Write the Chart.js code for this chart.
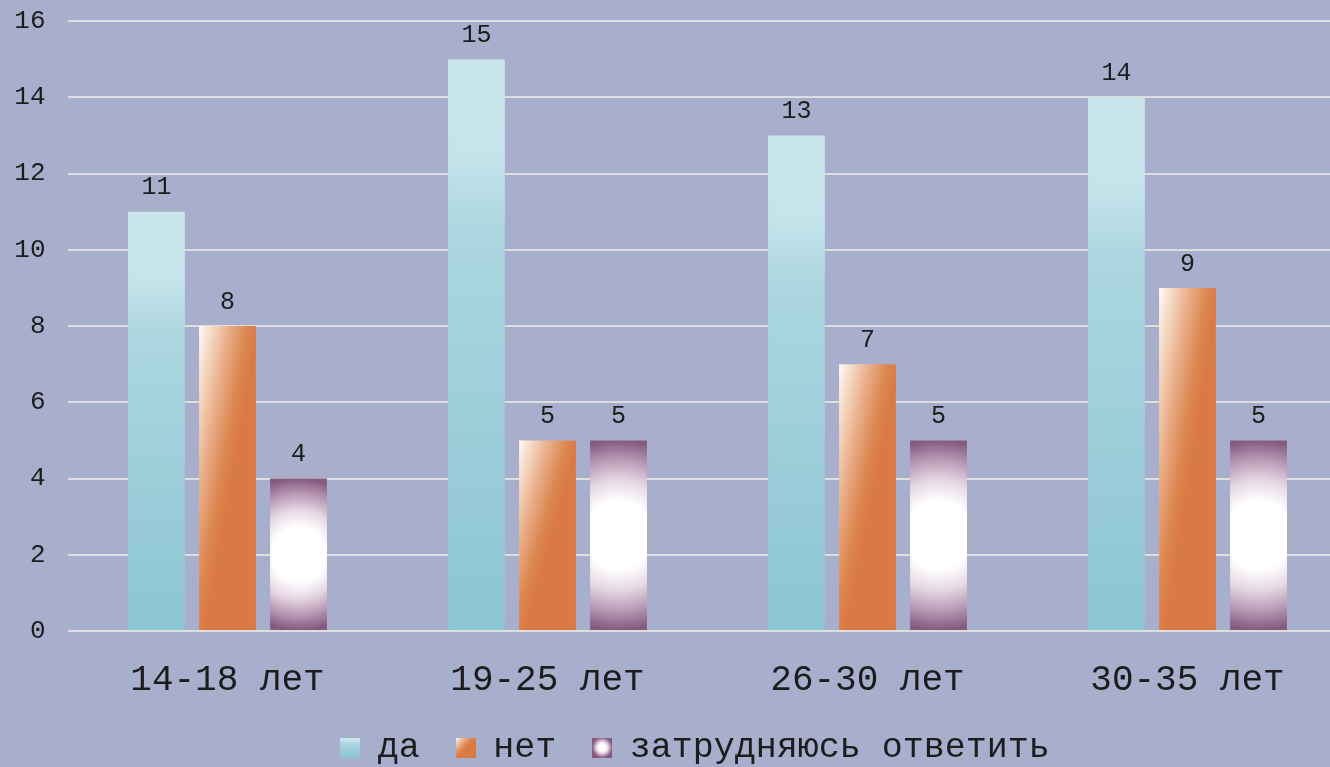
<!DOCTYPE html>
<html>
<head>
<meta charset="utf-8">
<script src="https://cdn.jsdelivr.net/npm/chart.js@4"></script>
<style>
html, body { margin: 0; padding: 0; background: #a8afcc; overflow: hidden; }
#wrap { width: 1360px; height: 767px; }
</style>
</head>
<body>
<div id="wrap"><canvas id="chart"></canvas></div>
<script>
const categories = ['14-18 лет', '19-25 лет', '26-30 лет', '30-35 лет'];
const seriesNames = ['да', 'нет', 'затрудняюсь ответить'];
const yesValues = [11, 15, 13, 14];
const noValues = [8, 5, 7, 9];
const unsureValues = [4, 5, 5, 5];
const yMin = 0, yMax = 16, yStep = 2;

const FONT = "'Liberation Mono', 'Courier New', monospace";

// fills for each series, built from a bar's box
function fillYes(ctx, x0, x1, top, bottom) {
    const g = ctx.createLinearGradient(0, top, 0, bottom);
    g.addColorStop(0, '#c9e5ec');
    g.addColorStop(0.17, '#c5e3ea');
    g.addColorStop(0.3, '#acd6e0');
    g.addColorStop(1, '#8cc5d3');
    return g;
}
function fillNo(ctx, x0, x1, top, bottom) {
    const w = x1 - x0, h = bottom - top;
    const A = 1.05 * w, B = 1.1 * h;
    const d = A * A + B * B;
    const g = ctx.createLinearGradient(x0, top, x0 + A * B * B / d, top + A * A * B / d);
    g.addColorStop(0, '#fffaf6');
    g.addColorStop(0.25, '#f4d5bf');
    g.addColorStop(0.5, '#e9b08c');
    g.addColorStop(0.8, '#dd8852');
    g.addColorStop(1, '#d97a45');
    return g;
}
function fillUnsure(ctx, x0, x1, top, bottom) {
    const cx = (x0 + x1) / 2, cy = (top + bottom) / 2;
    const r = (bottom - top) / 2;
    const g = ctx.createRadialGradient(cx, cy, 0, cx, cy, r);
    g.addColorStop(0, '#ffffff');
    g.addColorStop(0.36, '#ffffff');
    g.addColorStop(0.58, '#e6d8e4');
    g.addColorStop(0.8, '#b899b4');
    g.addColorStop(1, '#865a80');
    return g;
}
const fills = [fillYes, fillNo, fillUnsure];

function swatch(fill) {
    const c = document.createElement('canvas');
    c.width = 20; c.height = 20;
    const cx = c.getContext('2d');
    cx.fillStyle = fill(cx, 0, 20, 0, 20);
    cx.fillRect(0, 0, 20, 20);
    return c;
}
const swatches = fills.map(swatch);

const tweaks = {
    id: 'tweaks',
    beforeLayout(chart) {
        // keep the legend box short so the plot reaches down like the original
        const lg = chart.legend;
        if (lg && !lg._short) {
            const fit = lg.fit;
            lg.fit = function () { fit.call(this); this.height = 63; };
            lg._short = true;
        }
    },
    afterLayout(chart) {
        const lg = chart.legend;
        lg.left += 14; lg.right += 14;
        lg.top -= 10;
        // gap between y labels and plot, without padding the plot's top
        chart.scales.y.right -= 22;
    },
    beforeDatasetsDraw(chart) {
        const ctx = chart.ctx;
        chart.data.datasets.forEach((ds, i) => {
            chart.getDatasetMeta(i).data.forEach(el => {
                const x0 = el.x - el.width / 2, x1 = el.x + el.width / 2;
                el.options.backgroundColor = fills[i](ctx, x0, x1, el.y, el.base);
            });
        });
    },
    afterDatasetsDraw(chart) {
        const ctx = chart.ctx;
        ctx.save();
        ctx.font = '25px ' + FONT;
        ctx.fillStyle = '#1c1c1c';
        ctx.textAlign = 'center';
        ctx.textBaseline = 'middle';
        chart.data.datasets.forEach((ds, i) => {
            chart.getDatasetMeta(i).data.forEach((el, j) => {
                ctx.fillText(String(ds.data[j]), el.x, el.y - 24);
            });
        });
        ctx.restore();
    }
};

new Chart(document.getElementById('chart'), {
    type: 'bar',
    data: {
        labels: categories,
        datasets: [
            { label: seriesNames[0], data: yesValues, backgroundColor: () => '#a9d5df' },
            { label: seriesNames[1], data: noValues, backgroundColor: () => '#dd8350' },
            { label: seriesNames[2], data: unsureValues, backgroundColor: () => '#b899b4' }
        ]
    },
    options: {
        responsive: true,
        maintainAspectRatio: false,
        animation: false,
        events: [],
        layout: { padding: { left: 14.5, right: 12.5, top: 21, bottom: 0 } },
        datasets: { bar: { categoryPercentage: 0.666, barPercentage: 0.8 } },
        scales: {
            x: {
                grid: { display: false, drawTicks: false },
                border: { display: false },
                ticks: { color: '#1c1c1c', font: { family: FONT, size: 36 }, padding: 28 },
                afterFit(scale) { scale.height = 73; }
            },
            y: {
                min: yMin, max: yMax,
                grid: { color: '#dedede', lineWidth: 2, drawTicks: false },
                border: { display: false },
                ticks: { stepSize: yStep, color: '#1c1c1c', font: { family: FONT, size: 26 }, padding: 0 },
                afterFit(scale) { scale.width = 53; }
            }
        },
        plugins: {
            tooltip: { enabled: false },
            legend: {
                position: 'bottom',
                labels: {
                    color: '#1c1c1c',
                    font: { family: FONT, size: 35 },
                    padding: 36,
                    usePointStyle: true,
                    pointStyleWidth: 20,
                    boxHeight: 20,
                    generateLabels(chart) {
                        return chart.data.datasets.map((ds, i) => ({
                            text: ds.label,
                            pointStyle: swatches[i],
                            fontColor: '#1c1c1c',
                            hidden: false,
                            datasetIndex: i,
                            lineWidth: 0
                        }));
                    }
                }
            }
        }
    },
    plugins: [tweaks]
});
</script>
</body>
</html>
